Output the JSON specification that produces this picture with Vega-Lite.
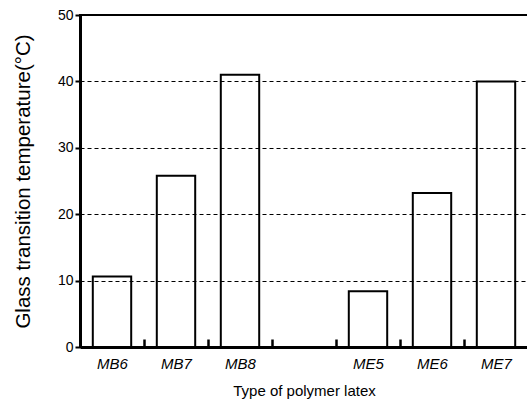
{
  "$schema": "https://vega.github.io/schema/vega-lite/v6.json",
  "autosize": {"type": "none"},
  "padding": {"left": 80, "top": 15, "right": 0, "bottom": 55},
  "width": 448,
  "height": 332,
  "background": "white",
  "config": {
    "view": {"stroke": "black", "strokeWidth": 2},
    "font": "Liberation Sans"
  },
  "data": {
    "values": [
      {"latex": "MB6", "tg": 10.6},
      {"latex": "MB7", "tg": 25.8},
      {"latex": "MB8", "tg": 41.0},
      {"latex": "ME5", "tg": 8.4},
      {"latex": "ME6", "tg": 23.2},
      {"latex": "ME7", "tg": 40.0}
    ]
  },
  "mark": {"type": "bar", "fill": "white", "stroke": "black", "strokeWidth": 2},
  "encoding": {
    "x": {
      "field": "latex",
      "type": "nominal",
      "scale": {"domain": ["MB6", "MB7", "MB8", " ", "ME5", "ME6", "ME7"], "paddingInner": 0.4, "paddingOuter": 0.2},
      "axis": {
        "title": "Type of polymer latex",
        "titleFontSize": 15,
        "titleFontWeight": "normal",
        "titleColor": "black",
        "titlePadding": 12,
        "labelAngle": 0,
        "labelFontSize": 15,
        "labelFontStyle": "italic",
        "labelColor": "black",
        "labelPadding": 17,
        "labelOffset": 32,
        "tickOffset": -32,
        "tickSize": -8,
        "tickWidth": 2.5,
        "tickColor": "black",
        "domainColor": "black",
        "domainWidth": 3,
        "zindex": 1,
        "grid": false
      }
    },
    "y": {
      "field": "tg",
      "type": "quantitative",
      "scale": {"domain": [0, 50]},
      "axis": {
        "title": "Glass transition temperature(°C)",
        "titleFontSize": 20.5,
        "titleFontWeight": "normal",
        "titleColor": "black",
        "titlePadding": 24,
        "values": [0, 10, 20, 30, 40, 50],
        "labelFontSize": 14,
        "labelColor": "black",
        "labelPadding": 2,
        "tickSize": 5,
        "tickWidth": 2,
        "tickColor": "black",
        "domainColor": "black",
        "domainWidth": 3,
        "zindex": 1,
        "grid": true,
        "gridColor": "black",
        "gridWidth": 1.2,
        "gridDash": [4, 3]
      }
    }
  }
}
